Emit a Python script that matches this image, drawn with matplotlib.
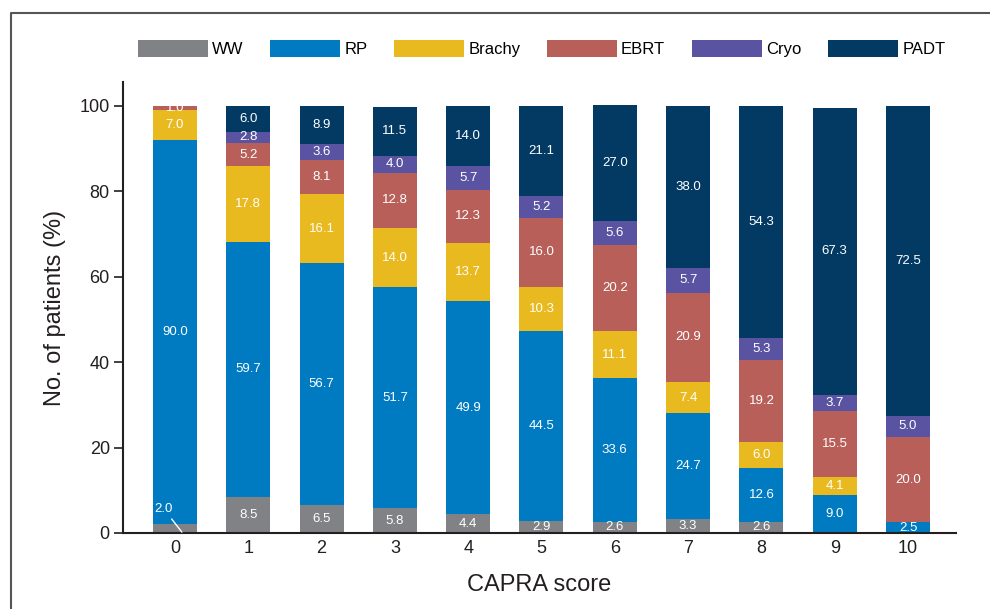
import matplotlib
matplotlib.use('Agg')
import matplotlib.pyplot as plt
from matplotlib.lines import Line2D
import numpy as np

plt.rcParams['font.family'] = ['Liberation Sans', 'DejaVu Sans']

# data (percent of patients per CAPRA score)
scores = ['0', '1', '2', '3', '4', '5', '6', '7', '8', '9', '10']
ww = [2.0, 8.5, 6.5, 5.8, 4.4, 2.9, 2.6, 3.3, 2.6, 0.0, 0.0]
rp = [90.0, 59.7, 56.7, 51.7, 49.9, 44.5, 33.6, 24.7, 12.6, 9.0, 2.5]
brachy = [7.0, 17.8, 16.1, 14.0, 13.7, 10.3, 11.1, 7.4, 6.0, 4.1, 0.0]
ebrt = [1.0, 5.2, 8.1, 12.8, 12.3, 16.0, 20.2, 20.9, 19.2, 15.5, 20.0]
cryo = [0.0, 2.8, 3.6, 4.0, 5.7, 5.2, 5.6, 5.7, 5.3, 3.7, 5.0]
padt = [0.0, 6.0, 8.9, 11.5, 14.0, 21.1, 27.0, 38.0, 54.3, 67.3, 72.5]

series = [
    ('WW', ww, '#808285'),
    ('RP', rp, '#007ac1'),
    ('Brachy', brachy, '#e9b920'),
    ('EBRT', ebrt, '#b85f59'),
    ('Cryo', cryo, '#5a53a2'),
    ('PADT', padt, '#033a63'),
]

fig = plt.figure(figsize=(9.9, 6.09), dpi=100)
ax = fig.add_axes([0.1242, 0.1248, 0.8415, 0.7406])

x = np.arange(len(scores))
bottom = np.zeros(len(scores))
for name, vals, color in series:
    vals = np.array(vals)
    ax.bar(x, vals, 0.6, bottom=bottom, color=color, label=name, zorder=2)
    for i, v in enumerate(vals):
        if v <= 0:
            continue
        if name == 'WW' and i == 0:
            continue  # labelled with a pointer below
        ax.text(x[i], bottom[i] + v / 2, f'{v:.1f}', ha='center', va='center',
                color='white', fontsize=9.5, zorder=3)
    bottom += vals

# small WW slice of score 0 gets a pointer line
ax.annotate(f'{ww[0]:.1f}', xy=(0.095, 0.2), xytext=(-0.15, 5.6),
            ha='center', va='center', color='white', fontsize=9.5, zorder=4,
            arrowprops=dict(arrowstyle='-', color='white', lw=1,
                            shrinkA=1, shrinkB=0))

ax.set_xlim(-0.709, 10.655)
ax.set_ylim(0, 105.6)
ax.set_xticks(x)
ax.set_xticklabels(scores)
ax.set_yticks([0, 20, 40, 60, 80, 100])
ax.tick_params(axis='x', length=0, pad=5, labelsize=13, colors='#231f20')
ax.tick_params(axis='y', length=6.5, width=1.2, pad=3, labelsize=13,
               colors='#231f20')

for side in ['top', 'right']:
    ax.spines[side].set_visible(False)
for side in ['left', 'bottom']:
    ax.spines[side].set_linewidth(1.5)
    ax.spines[side].set_color('#231f20')

ax.set_xlabel('CAPRA score', fontsize=17, color='#231f20', labelpad=12)
ax.set_ylabel('No. of patients (%)', fontsize=17, color='#231f20', labelpad=10)

fig.legend(loc='center', bbox_to_anchor=(0.547, 0.92), ncol=6, frameon=False,
           fontsize=12, handlelength=4.2, handleheight=1.2, handletextpad=0.25,
           columnspacing=1.6)

# partial frame around the figure (top and left edges)
fig.add_artist(Line2D([11 / 990, 11 / 990, 1.0], [0.0, 1 - 13 / 609, 1 - 13 / 609],
                      transform=fig.transFigure, color='#555555', lw=1.5))

fig.savefig('out.png', dpi=100)
